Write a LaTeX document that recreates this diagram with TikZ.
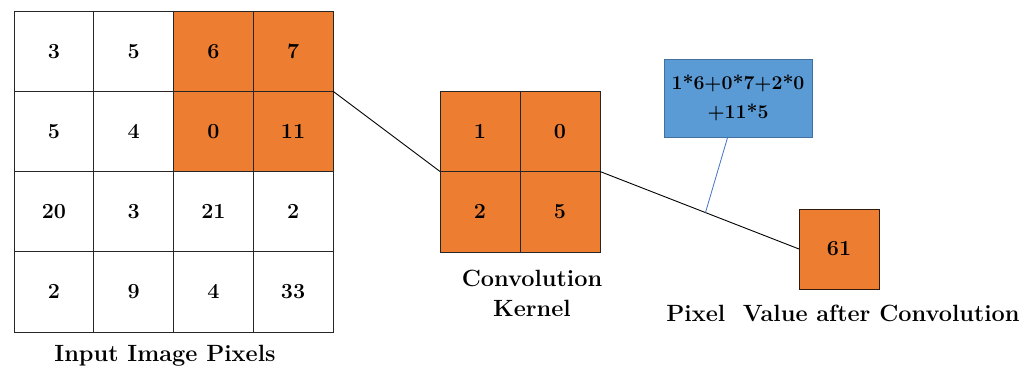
\documentclass[tikz,border=0pt]{standalone}
\usepackage{fontspec}
\setmainfont{Latin Modern Roman}
\usetikzlibrary{calc}
\definecolor{korange}{HTML}{ED7D31}
\definecolor{kblue}{HTML}{5B9BD5}
\definecolor{kblueedge}{HTML}{41719C}
\definecolor{klink}{HTML}{4472C4}
\begin{document}
\begin{tikzpicture}[x=1pt,y=-1pt,
  cell/.style={draw=black!85, line width=0.9pt, inner sep=0pt, outer sep=0pt,
    minimum width=79.75pt, minimum height=80.25pt,
    font=\fontsize{21.5}{25}\selectfont\bfseries},
  hot/.style={cell, fill=korange},
  kcell/.style={hot, minimum width=80pt, minimum height=80.5pt},
  caption/.style={anchor=base, inner sep=0pt, font=\fontsize{23.5}{30}\selectfont\bfseries},
  conn/.style={line width=0.9pt, black},
  ]
\useasboundingbox (0,0) rectangle (1035,367);

% input image, 4x4
\node[cell] (g-1-1) at (53.9,51.1) {3};
\node[cell] (g-1-2) at (133.6,51.1) {5};
\node[cell] (g-2-1) at (53.9,131.4) {5};
\node[cell] (g-2-2) at (133.6,131.4) {4};
\node[cell] (g-3-1) at (53.9,211.6) {20};
\node[cell] (g-3-2) at (133.6,211.6) {3};
\node[cell] (g-3-3) at (213.4,211.6) {21};
\node[cell] (g-3-4) at (293.1,211.6) {2};
\node[cell] (g-4-1) at (53.9,291.9) {2};
\node[cell] (g-4-2) at (133.6,291.9) {9};
\node[cell] (g-4-3) at (213.4,291.9) {4};
\node[cell] (g-4-4) at (293.1,291.9) {33};
\node[hot] (g-1-3) at (213.4,51.1) {6};
\node[hot] (g-1-4) at (293.1,51.1) {7};
\node[hot] (g-2-3) at (213.4,131.4) {0};
\node[hot] (g-2-4) at (293.1,131.4) {11};
\node[caption] (lin) at (165,361) {Input Image Pixels};

% kernel, 2x2
\node[kcell] (k-1-1) at (480,131.25) {1};
\node[kcell] (k-1-2) at (560,131.25) {0};
\node[kcell] (k-2-1) at (480,211.75) {2};
\node[kcell] (k-2-2) at (560,211.75) {5};
\node[caption] (lk1) at (532,286.5) {Convolution};
\node[caption] (lk2) at (532,316.5) {Kernel};

% result pixel
\node[hot, draw=black!80!korange, minimum width=80pt, minimum height=80pt] (o) at (839,249) {61};
\node[caption] (lo) at (843,321) {Pixel\ \ Value after Convolution};

% formula callout
\node[draw=kblueedge, fill=kblue, line width=0.9pt, minimum width=148pt, minimum height=78pt,
  inner sep=0pt, align=center, font=\fontsize{19.5}{29}\selectfont\bfseries] (f) at (738,98)
  {1*6+0*7+2*0\\+11*5};

% connectors
\draw[conn] (g-1-4.south east) -- (k-1-1.south west);
\draw[conn] (k-1-2.south east) -- (o.west) coordinate[pos=0.53] (m);
\draw[klink, line width=0.8pt] ($(f.south west)!0.43!(f.south east)$) -- (m);
\end{tikzpicture}
\end{document}
